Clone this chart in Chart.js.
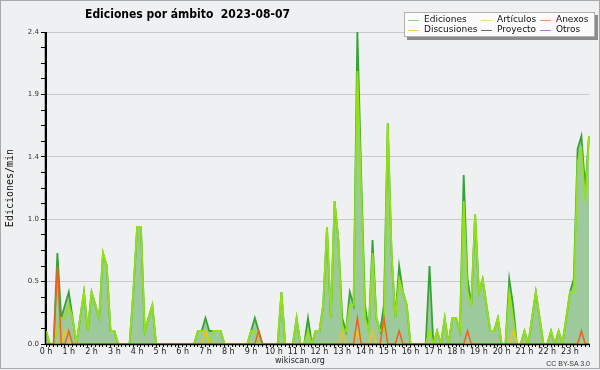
<!DOCTYPE html>
<html><head><meta charset="utf-8">
<script src="https://cdn.jsdelivr.net/npm/chart.js@4/dist/chart.umd.min.js"></script>
<style>
html,body{margin:0;padding:0;background:#eff0f1;}
#wrap{position:relative;width:600px;height:370px;overflow:hidden;background:#eff0f1;}
#frame{position:absolute;left:0;top:0;width:598px;height:367px;border:1px solid #a8a8a8;pointer-events:none;}
canvas{position:absolute;left:0;top:0;}
.t{position:absolute;white-space:nowrap;font-family:"DejaVu Sans",sans-serif;color:#000;line-height:1;}
#title{left:85px;top:8px;font-size:12px;font-weight:bold;transform:scaleX(0.9);transform-origin:0 0;}
#legend{position:absolute;left:404px;top:12px;width:189px;height:23px;background:#fbfbfb;border:1px solid #b0b0b0;box-shadow:3px 3px 0 #8c8c8c;}
.li{position:absolute;font-family:"DejaVu Sans",sans-serif;font-size:9px;line-height:1;color:#111;white-space:nowrap;}
.ln{position:absolute;height:1px;width:11px;}
#site{left:0;width:600px;text-align:center;top:357px;font-size:8px;color:#222;}
#lic{right:10px;top:360px;font-family:"Liberation Sans",sans-serif;font-size:7px;color:#333;}
</style></head>
<body>
<div id="wrap">
<canvas id="c" width="600" height="370"></canvas>
<div id="title" class="t">Ediciones por ámbito&nbsp;&nbsp;2023-08-07</div>
<div id="legend"></div>
<div id="site" class="t">wikiscan.org</div>
<div id="lic" class="t">CC BY-SA 3.0</div>
<div id="frame"></div>
</div>
<script>
// ---- data: edits per minute, 10-minute bins 00:00 .. 23:50 (12 bins = 2 hours per row) ----
const hourLabels = ['0 h','1 h','2 h','3 h','4 h','5 h','6 h','7 h','8 h','9 h','10 h','11 h',
  '12 h','13 h','14 h','15 h','16 h','17 h','18 h','19 h','20 h','21 h','22 h','23 h'];

const ediciones = [
 0.1,0,0,0.7,0.2,0.3, 0.4,0.2,0,0.2,0.4,0.1,
 0.4,0.3,0.2,0.7,0.6,0.1, 0.1,0,0,0,0,0.4,
 0.9,0.9,0.1,0.2,0.3,0, 0,0,0,0,0,0,
 0,0,0,0,0.1,0.1, 0.2,0.1,0.1,0.1,0.1,0,
 0,0,0,0,0,0, 0.1,0.2,0.1,0,0,0,
 0,0,0.4,0,0,0, 0.2,0,0,0.2,0,0.1,
 0.1,0.3,0.9,0.2,1.1,0.8, 0.2,0.1,0.4,0.3,2.4,1.3,
 0.3,0.1,0.8,0.2,0.1,0.3, 1.7,0.7,0.2,0.6,0.4,0.3,
 0,0,0,0,0,0.6, 0,0.1,0,0.2,0,0.2,
 0.2,0.1,1.3,0.5,0.3,1.0, 0.4,0.5,0.3,0.1,0.1,0.2,
 0,0,0.5,0.3,0,0, 0.1,0,0.2,0.4,0.2,0,
 0,0.1,0,0.1,0,0.2, 0.4,0.5,1.5,1.6,1.2,1.6
];
const articulos = [
 0.1,0,0,0.1,0.2,0.2, 0.3,0.2,0,0.2,0.4,0.1,
 0.4,0.3,0.2,0.7,0.6,0.1, 0.1,0,0,0,0,0.4,
 0.9,0.9,0.1,0.2,0.3,0, 0,0,0,0,0,0,
 0,0,0,0,0.1,0.1, 0.1,0,0.1,0.1,0.1,0,
 0,0,0,0,0,0, 0.1,0.1,0,0,0,0,
 0,0,0.4,0,0,0, 0.2,0,0,0.1,0,0.1,
 0.1,0.3,0.9,0.2,1.1,0.8, 0.1,0.1,0.3,0.3,2.1,1.2,
 0.2,0.1,0.7,0.2,0.1,0.1, 1.7,0.7,0.2,0.5,0.4,0.3,
 0,0,0,0,0,0.1, 0,0.1,0,0.2,0,0.2,
 0.2,0.1,1.1,0.4,0.3,1.0, 0.4,0.5,0.3,0.1,0.1,0.2,
 0,0,0.4,0.2,0,0, 0.1,0,0.2,0.4,0.2,0,
 0,0.1,0,0.1,0,0.2, 0.4,0.4,1.4,1.5,1.1,1.6
];
const anexos = [
 0,0,0,0.6,0,0, 0.1,0,0,0,0,0,
 0,0,0,0,0,0, 0,0,0,0,0,0,
 0,0,0,0,0,0, 0,0,0,0,0,0,
 0,0,0,0,0,0, 0,0,0,0,0,0,
 0,0,0,0,0,0, 0,0,0.1,0,0,0,
 0,0,0,0,0,0, 0,0,0,0,0,0,
 0,0,0,0,0,0, 0,0,0,0,0.2,0,
 0,0,0,0,0,0.2, 0,0,0,0.1,0,0,
 0,0,0,0,0,0, 0,0,0,0,0,0,
 0,0,0,0.1,0,0, 0,0,0,0,0,0,
 0,0,0,0,0,0, 0,0,0,0,0,0,
 0,0,0,0,0,0, 0,0,0,0.1,0,0
];
const discusiones = [
 0,0,0,0,0,0.1, 0,0,0,0,0,0,
 0,0,0,0,0,0, 0,0,0,0,0,0,
 0,0,0,0,0,0, 0,0,0,0,0,0,
 0,0,0,0,0,0, 0.1,0,0,0,0,0,
 0,0,0,0,0,0, 0,0,0,0,0,0,
 0,0,0,0,0,0, 0,0,0,0,0,0,
 0,0,0,0,0,0, 0.1,0,0,0,0.1,0,
 0,0,0.1,0,0,0, 0,0,0,0,0,0,
 0,0,0,0,0,0, 0,0,0,0,0,0,
 0,0,0,0,0,0, 0,0,0,0,0,0,
 0,0,0,0.1,0,0, 0,0,0,0,0,0,
 0,0,0,0,0,0, 0,0,0,0,0,0
];
const proyecto = [
 0,0,0,0,0,0, 0,0,0,0,0,0, 0,0,0,0,0,0, 0,0,0,0,0,0,
 0,0,0,0,0,0, 0,0,0,0,0,0, 0,0,0,0,0,0, 0,0,0,0,0,0,
 0,0,0,0,0,0, 0,0,0,0,0,0, 0,0,0,0,0,0, 0,0,0,0,0,0,
 0,0,0,0,0,0, 0,0,0,0,0,0, 0,0,0,0,0,0, 0,0,0,0,0,0,
 0,0,0,0,0,0, 0,0,0,0,0,0, 0,0,0,0,0,0, 0,0,0,0,0,0,
 0,0,0,0,0,0, 0,0,0,0,0,0, 0,0,0,0,0,0, 0,0,0,0,0,0
];
const otros = proyecto.slice();
const yMajorLabels = ['0.0','0.5','1.0','1.4','1.9','2.4'];
const yMax = 2.4;

// ---- categories (10-minute slots) ----
const slots = [];
for (let i = 0; i < 144; i++) {
  const h = Math.floor(i / 6), m = (i % 6) * 10;
  slots.push(String(h).padStart(2,'0') + ':' + String(m).padStart(2,'0'));
}

const C = {
  ed: '#35a335', edFill: '#9dca9d', art: '#94e214', anx: '#f0601e',
  dis: '#f0c419', pro: '#555555', otr: '#9a4ee6'
};

// legend (HTML, real text)
const legendItems = [
  ['Ediciones', '#8fcf8f', 3, 6], ['Discusiones', '#f5d45a', 3, 16],
  ['Artículos', '#cdee7a', 76, 6], ['Proyecto', '#666666', 76, 16],
  ['Anexos', '#f09060', 135, 6], ['Otros', '#a877ee', 135, 16]
];
const lg = document.getElementById('legend');
legendItems.forEach(([name, col, x, y]) => {
  const l = document.createElement('div'); l.className = 'ln';
  l.style.left = x + 'px'; l.style.top = (y + 1) + 'px'; l.style.background = col;
  lg.appendChild(l);
  const t = document.createElement('div'); t.className = 'li'; t.textContent = name;
  t.style.left = (x + 16) + 'px'; t.style.top = (y - 4) + 'px';
  lg.appendChild(t);
});

const axisRedraw = {
  id: 'axisRedraw',
  afterDatasetsDraw(chart) {
    const {ctx, chartArea: a} = chart;
    ctx.save();
    ctx.strokeStyle = '#000';
    ctx.lineWidth = 1.5;
    ctx.beginPath();
    ctx.moveTo(a.left, a.bottom + 0.5); ctx.lineTo(a.right + 1, a.bottom + 0.5);
    ctx.moveTo(a.left - 0.5, a.top); ctx.lineTo(a.left - 0.5, a.bottom + 1);
    ctx.stroke();
    ctx.restore();
  }
};

const mk = (label, data, color, order, extra) => Object.assign({
  label, data, borderColor: color, backgroundColor: color, borderWidth: 1.5,
  pointRadius: 0, tension: 0, fill: false, order
}, extra || {});

new Chart(document.getElementById('c'), {
  type: 'line',
  data: {
    labels: slots,
    datasets: [
      mk('Ediciones', ediciones, C.ed, 6, {fill: 'origin', backgroundColor: C.edFill, borderWidth: 1.8}),
      mk('Artículos', articulos, C.art, 5, {borderWidth: 1.8}),
      mk('Proyecto', proyecto, C.pro, 7),
      mk('Otros', otros, C.otr, 8),
      mk('Discusiones', discusiones, C.dis, 2),
      mk('Anexos', anexos, C.anx, 1)
    ]
  },
  options: {
    responsive: false, animation: false, events: [],
    layout: {padding: {left: 0, top: 32, right: 11, bottom: 0}},
    plugins: {legend: {display: false}, title: {display: false}, tooltip: {enabled: false}},
    scales: {
      x: {
        type: 'category', offset: false,
        afterFit: s => { s.height = 26; },
        border: {color: '#000', width: 1},
        grid: {drawOnChartArea: false, tickLength: 3, color: '#000', tickColor: '#000'},
        ticks: {
          autoSkip: false, maxRotation: 0, minRotation: 0, padding: 0,
          color: '#222', font: {family: 'DejaVu Sans', size: 8},
          callback: (v, i) => (i % 6 === 0 ? hourLabels[i / 6] : '')
        }
      },
      y: {
        min: 0, max: yMax,
        afterFit: s => { s.width = 46; },
        afterBuildTicks: s => {
          const t = [];
          for (let k = 0; k <= 20; k++) t.push({value: yMax * k / 20});
          s.ticks = t;
        },
        border: {color: '#000', width: 1},
        grid: {
          tickLength: 5, tickColor: '#000', lineWidth: 1,
          color: c => (c.index % 4 === 0 ? '#c9c9c9' : 'rgba(0,0,0,0)')
        },
        ticks: {
          padding: 2, color: '#333', font: {family: 'DejaVu Sans', size: 7},
          callback: (v, i) => (i % 4 === 0 ? yMajorLabels[i / 4] : '')
        },
        title: {
          display: true, text: 'Ediciones/min', color: '#111',
          font: {family: 'DejaVu Sans Mono', size: 10}, padding: {top: 4, bottom: 0}
        }
      }
    }
  },
  plugins: [axisRedraw]
});
</script>
</body></html>
